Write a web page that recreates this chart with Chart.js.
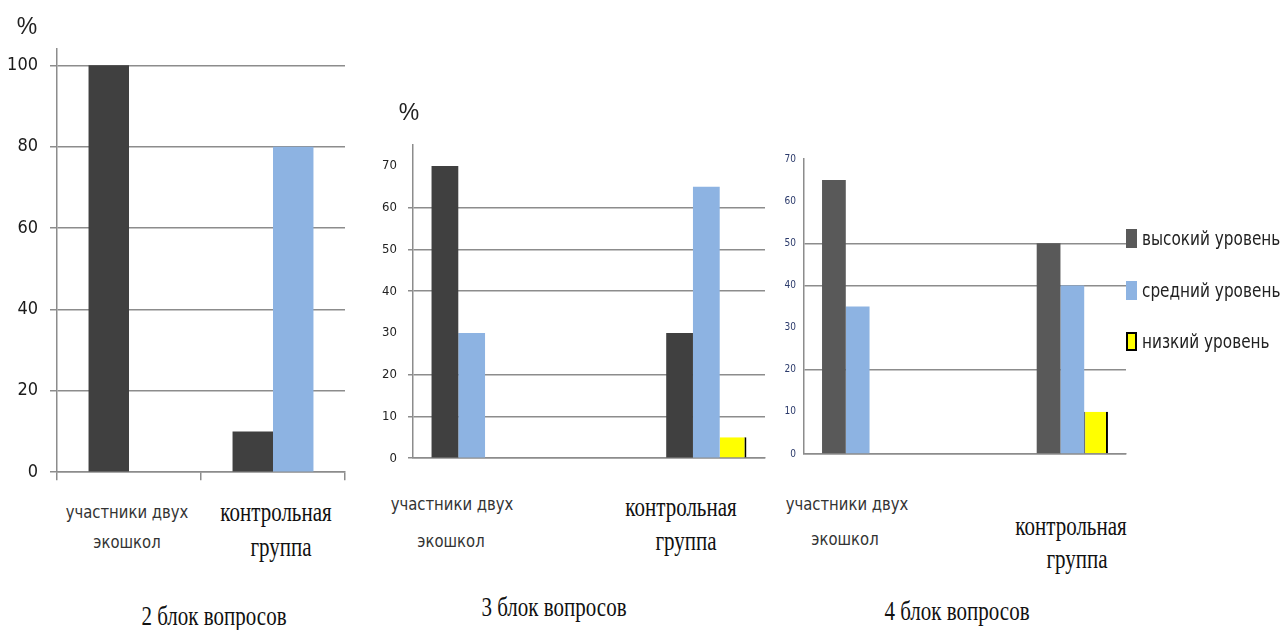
<!DOCTYPE html>
<html>
<head>
<meta charset="utf-8">
<script src="https://cdn.jsdelivr.net/npm/chart.js@4.4.1/dist/chart.umd.min.js"></script>
<style>
body { margin: 0; width: 1285px; height: 630px; background: #fff; position: relative; overflow: hidden; }
canvas { position: absolute; }
.t { position: absolute; white-space: nowrap; line-height: 1; }
.sans { font-family: 'DejaVu Sans Condensed', 'Liberation Sans', sans-serif; font-size: 16.5px; color: #333; transform: translate(-50%, -50%) scaleY(1.12); }
.serif { font-family: 'Liberation Serif', 'DejaVu Serif', serif; font-size: 21px; color: #111; transform: translate(-50%, -50%) scaleY(1.28); }
.pct { font-family: 'Liberation Sans', sans-serif; font-size: 23px; color: #222; transform: translate(-50%, -50%); }
#legend { position: absolute; left: 1126px; top: 229px; font-family: 'DejaVu Sans Condensed', 'Liberation Sans', sans-serif; font-size: 17px; color: #222; white-space: nowrap; }
#legend div { height: 51.5px; display: flex; align-items: flex-start; }
#legend span.b { display: inline-block; width: 11px; height: 19px; margin-right: 5px; box-sizing: border-box; }
#legend span.l { line-height: 19px; transform: scaleY(1.12); display: inline-block; }
</style>
</head>
<body>
<canvas id="c2" width="360" height="495" style="left:0;top:0"></canvas>
<canvas id="c3" width="420" height="377" style="left:360px;top:100px"></canvas>
<canvas id="c4" width="360" height="328" style="left:780px;top:140px"></canvas>
<div id="legend"></div>
<script>
// categories (two lines each)
const categories = [['участники двух', 'экошкол'], ['контрольная', 'группа']];
const levels = ['высокий уровень', 'средний уровень', 'низкий уровень'];

// 2 блок вопросов
const block2High = [100, 10];
const block2Mid = [0, 80];
const block2Ticks = [0, 20, 40, 60, 80, 100];

// 3 блок вопросов
const block3High = [70, 30];
const block3Mid = [30, 65];
const block3Low = [0, 5];
const block3Ticks = [0, 10, 20, 30, 40, 50, 60, 70];

// 4 блок вопросов
const block4High = [65, 50];
const block4Mid = [35, 40];
const block4Low = [0, 10];
const block4Ticks = [0, 10, 20, 30, 40, 50, 60, 70];

const titles = ['2 блок вопросов', '3 блок вопросов', '4 блок вопросов'];

const GRID = '#8c8c8c';
const DARK = '#404040';
const DARK4 = '#595959';
const BLUE = '#8db3e2';
const YELLOW = '#ffff00';

// empty middle slot so the two groups sit apart like in the original
const spread = arr => [arr[0], null, arr[1]];

function barChart(id, cfg) {
  return new Chart(document.getElementById(id), {
    type: 'bar',
    data: { labels: cfg.labels, datasets: cfg.datasets },
    options: {
      responsive: false,
      animation: false,
      layout: { padding: cfg.padding },
      plugins: { legend: { display: false }, tooltip: { enabled: false } },
      datasets: { bar: { categoryPercentage: cfg.catPct, barPercentage: 1 } },
      scales: {
        x: {
          offset: true,
          afterFit: s => { s.height = 10; },
          ticks: { display: false, autoSkip: false },
          border: { color: GRID, width: 1.5 },
          grid: {
            drawOnChartArea: false, tickLength: 8, lineWidth: 1.5,
            color: ctx => {
              const i = ctx.index === undefined ? ctx.scale.ticks.length : ctx.index;
              return cfg.xMarks.includes(i) ? GRID : 'rgba(0,0,0,0)';
            }
          }
        },
        y: {
          min: 0, max: cfg.yMax,
          afterBuildTicks: s => { s.ticks = cfg.yTicks.map(v => ({ value: v })); },
          afterFit: s => { s.width = cfg.yWidth; },
          border: { color: GRID, width: 1.5 },
          grid: {
            lineWidth: 1.5, tickLength: cfg.tickLen, drawTicks: cfg.tickLen > 0,
            color: ctx => cfg.yGrid.includes(ctx.tick.value) ? GRID : 'rgba(0,0,0,0)'
          },
          ticks: { padding: cfg.tickPad, color: cfg.tickColor, font: cfg.tickFont }
        }
      }
    }
  });
}

const narrow = "'DejaVu Sans Condensed', 'Liberation Sans', sans-serif";

barChart('c2', {
  labels: categories,
  datasets: [
    { label: levels[0], data: block2High, backgroundColor: DARK },
    { label: levels[1], data: block2Mid, backgroundColor: BLUE }
  ],
  catPct: 0.562,
  padding: { top: 49, right: 15, bottom: 0, left: 0 },
  yMax: 104, yTicks: block2Ticks, yGrid: [0, 20, 40, 60, 80, 100],
  yWidth: 57, tickLen: 7, tickPad: 12, tickColor: '#1a1a1a',
  tickFont: { family: narrow, size: 18 },
  xMarks: [0, 1, 2]
});

barChart('c3', {
  labels: spread(categories),
  datasets: [
    { label: levels[0], data: spread(block3High), backgroundColor: DARK },
    { label: levels[1], data: spread(block3Mid), backgroundColor: BLUE },
    { label: levels[2], data: spread(block3Low), backgroundColor: YELLOW,
      borderColor: '#000', borderWidth: { left: 0, right: 2, top: 0, bottom: 0 } }
  ],
  catPct: 0.342,
  padding: { top: 45, right: 15, bottom: 0, left: 0 },
  yMax: 75, yTicks: block3Ticks, yGrid: [0, 10, 20, 40, 50, 60],
  yWidth: 53, tickLen: 5, tickPad: 11, tickColor: '#222',
  tickFont: { family: narrow, size: 13 },
  xMarks: [0, 2]
});

const chart4 = barChart('c4', {
  labels: spread(categories),
  datasets: [
    { label: levels[0], data: spread(block4High), backgroundColor: DARK4 },
    { label: levels[1], data: spread(block4Mid), backgroundColor: BLUE },
    { label: levels[2], data: spread(block4Low), backgroundColor: YELLOW,
      borderColor: '#000', borderWidth: { left: 1, right: 2, top: 0, bottom: 0 } }
  ],
  catPct: 0.332,
  padding: { top: 19, right: 14, bottom: 2, left: 0 },
  yMax: 70, yTicks: block4Ticks, yGrid: [0, 20, 40, 50],
  yWidth: 24, tickLen: 0, tickPad: 8, tickColor: '#2b3a6b',
  tickFont: { family: narrow, size: 10 },
  xMarks: [0, 2]
});

// text labels under the charts
function text(str, x, y, cls) {
  const d = document.createElement('div');
  d.className = 't ' + cls;
  d.textContent = str;
  d.style.left = x + 'px';
  d.style.top = y + 'px';
  document.body.appendChild(d);
}

// [chart][category][line] = [x, y]
const labelPos = [
  [[[127, 513], [127, 543]], [[276, 513], [281, 548]]],
  [[[452, 505], [451, 542]], [[681, 508], [686, 542]]],
  [[[847, 505], [845, 540]], [[1071, 527], [1077, 560]]]
];
labelPos.forEach(chart => chart.forEach((cat, ci) => cat.forEach((p, li) => {
  text(categories[ci][li], p[0], p[1], ci === 0 ? 'sans' : 'serif');
})));

const titlePos = [[214, 617], [554, 608], [957, 612]];
titles.forEach((t, i) => text(t, titlePos[i][0], titlePos[i][1], 'serif'));

text('%', 27, 26, 'pct');
text('%', 409, 112, 'pct');

// legend from the last chart's datasets
const legend = document.getElementById('legend');
chart4.data.datasets.forEach(ds => {
  const row = document.createElement('div');
  const b = document.createElement('span');
  b.className = 'b';
  b.style.background = ds.backgroundColor;
  if (ds.borderColor) b.style.border = '2px solid ' + ds.borderColor;
  const s = document.createElement('span');
  s.className = 'l';
  s.textContent = ds.label;
  row.appendChild(b);
  row.appendChild(s);
  legend.appendChild(row);
});
</script>
</body>
</html>
